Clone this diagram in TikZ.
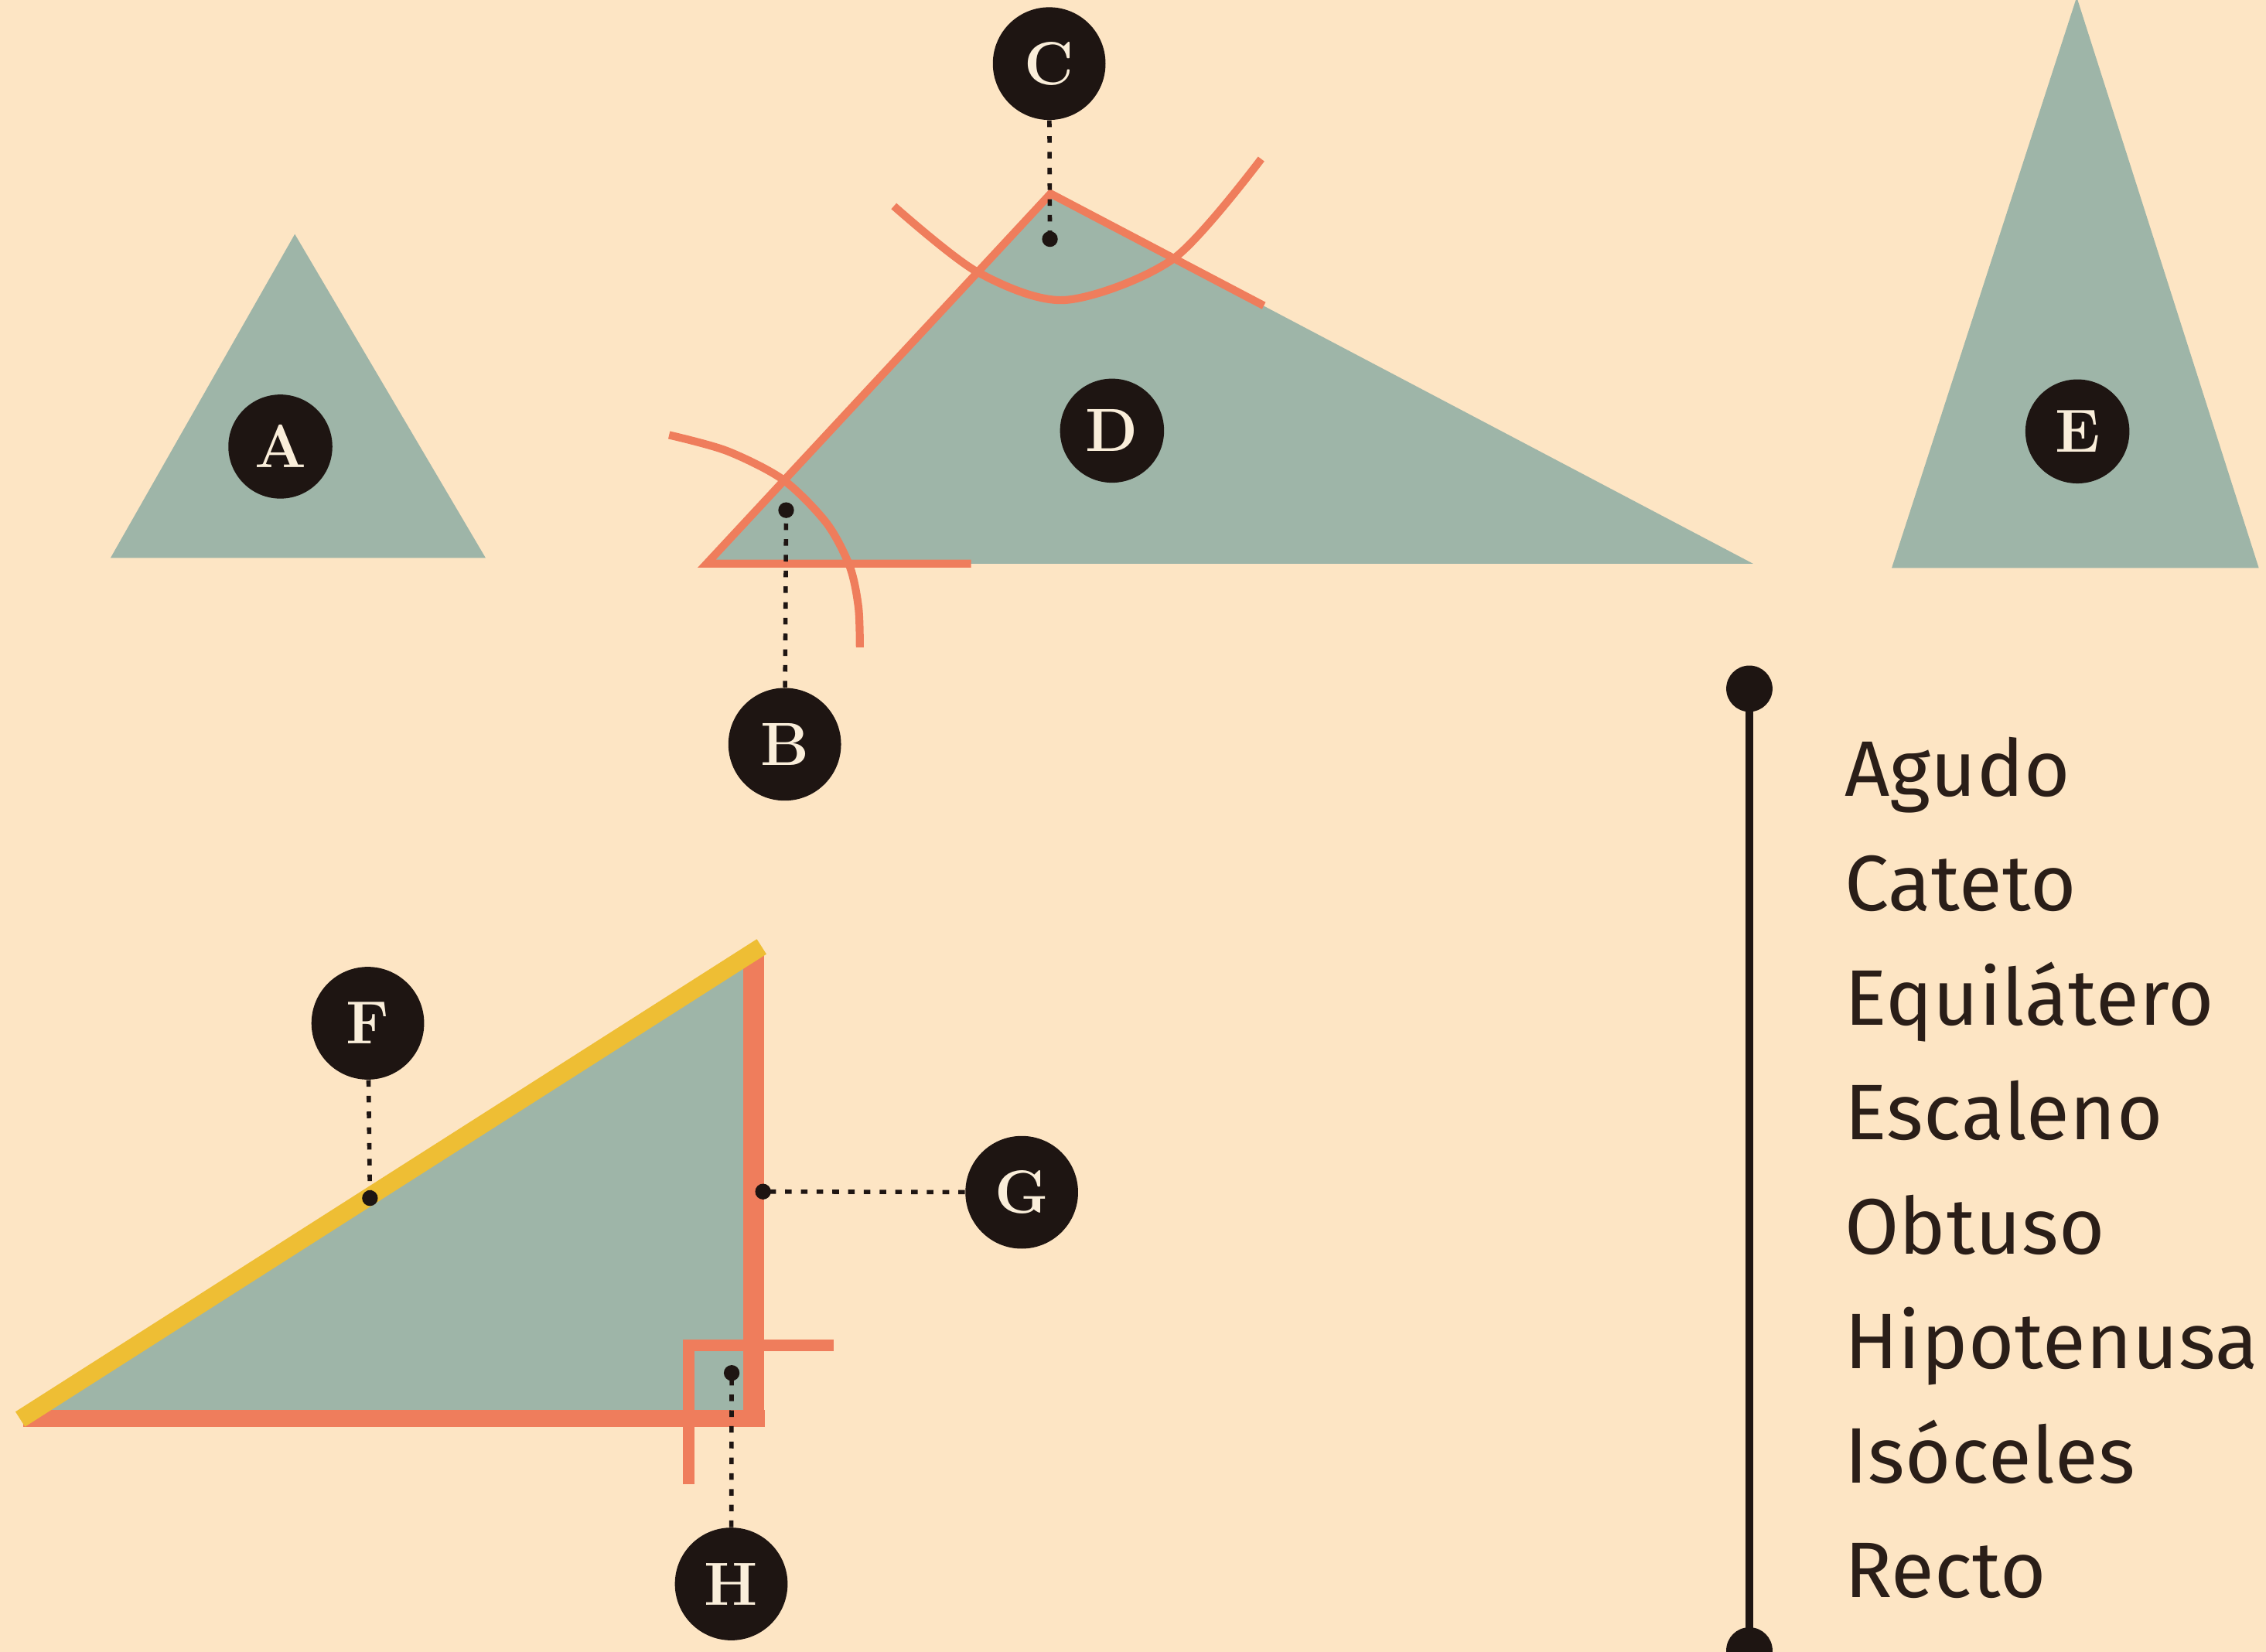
\documentclass[tikz,border=0pt]{standalone}
\usepackage{fontspec}
\newfontfamily\legendfont[LetterSpace=0.6]{Fira Sans}
\definecolor{bg}{RGB}{253,229,196}
\definecolor{shapefill}{RGB}{158,181,168}
\definecolor{coral}{RGB}{239,125,92}
\definecolor{gold}{RGB}{238,190,52}
\definecolor{ink}{RGB}{30,21,18}
\definecolor{cream}{RGB}{250,238,218}
\definecolor{legendink}{RGB}{42,30,24}
\tikzset{
  badge/.style={circle, fill=ink, text=cream, inner sep=0pt, minimum size=1.56cm,
    font=\fontsize{24}{24}\selectfont\bfseries},
  smallbadge/.style={badge, minimum size=1.44cm},
  leader/.style={draw=ink, line width=1.7pt, dash pattern=on 2.6pt off 3.6pt},
  markline/.style={draw=coral, line width=3.1pt},
  enddot/.style={circle, fill=ink, inner sep=0pt, minimum size=0.64cm},
  legendtext/.style={anchor=base west, inner sep=0pt, text=legendink,
    font=\legendfont\fontsize{31}{31}\selectfont},
}
\begin{document}
\begin{tikzpicture}[x=0.02cm, y=-0.02cm]
\fill[bg] (0,0) rectangle (1568,1143);
\useasboundingbox (0,0) rectangle (1568,1143);

% ---- Triangle A (equilateral)
\fill[shapefill] (76.5,386) -- (204,162) -- (336,386) -- cycle;
\node[smallbadge] (A) at (194,309) {A};

% ---- Triangle D (obtuse / scalene)
\fill[shapefill] (489,390) -- (727,134) -- (1213,390) -- cycle;
\draw[markline, line join=miter] (672,390) -- (489,390) -- (727,134) -- (874.5,211.5);
\draw[markline] plot[smooth] coordinates {(618.5,142.6) (676,188) (737,207.6) (812,179) (872.7,110)};
\draw[markline] plot[smooth] coordinates {(463,301) (503,312) (542,332) (572,362) (588,392) (594,420) (595,448)};
\node[smallbadge] (D) at (769.5,298) {D};

% C leader
\node[badge] (C) at (726,44) {C};
\coordinate (Cpt) at (726.5,165.4);
\draw[leader] (C) -- (Cpt);
\fill[ink] (Cpt) circle[radius=3.1pt];

% B leader
\node[badge] (B) at (543,515) {B};
\coordinate (Bpt) at (544,353);
\draw[leader] (B) -- (Bpt);
\fill[ink] (Bpt) circle[radius=3.1pt];

% ---- Triangle E (isosceles)
\fill[shapefill] (1309,393) -- (1437,-2) -- (1563,393) -- cycle;
\node[smallbadge] (E) at (1437.5,298.5) {E};

% ---- Right triangle
\fill[shapefill] (18,981) -- (521,981) -- (521,660) -- cycle;
\draw[coral, line width=6.8pt] (16,981.5) -- (529.5,981.5);
\draw[coral, line width=8.5pt] (521.5,660) -- (521.5,987.5);
\draw[gold, line width=7pt] (14,982) -- (527,655);
\draw[coral, line width=4.6pt, line join=miter] (476.5,1027) -- (476.5,931) -- (577,931);

\node[badge] (F) at (254.5,708) {F};
\coordinate (Fpt) at (256,829);
\draw[leader] (F) -- (Fpt);
\fill[ink] (Fpt) circle[radius=3.1pt];

\node[badge] (G) at (707,825) {G};
\coordinate (Gpt) at (528,824.5);
\draw[leader] (G) -- (Gpt);
\fill[ink] (Gpt) circle[radius=3.1pt];

\node[badge] (H) at (506,1096) {H};
\coordinate (Hpt) at (506.3,950);
\draw[leader] (H) -- (Hpt);
\fill[ink] (Hpt) circle[radius=3.1pt];

% ---- Legend
\node[enddot] (ttop) at (1210.5,476.5) {};
\node[enddot] (tbot) at (1210.5,1142) {};
\draw[ink, line width=3pt] (ttop.center) -- (tbot.center);

\node[legendtext] (w1) at (1276,551) {Agudo};
\node[legendtext] (w2) at (1276,630.2) {Cateto};
\node[legendtext] (w3) at (1276,709.4) {Equilátero};
\node[legendtext] (w4) at (1276,788.6) {Escaleno};
\node[legendtext] (w5) at (1276,867.8) {Obtuso};
\node[legendtext] (w6) at (1276,947) {Hipotenusa};
\node[legendtext] (w7) at (1276,1026.2) {Isóceles};
\node[legendtext] (w8) at (1276,1105.4) {Recto};
\end{tikzpicture}
\end{document}
